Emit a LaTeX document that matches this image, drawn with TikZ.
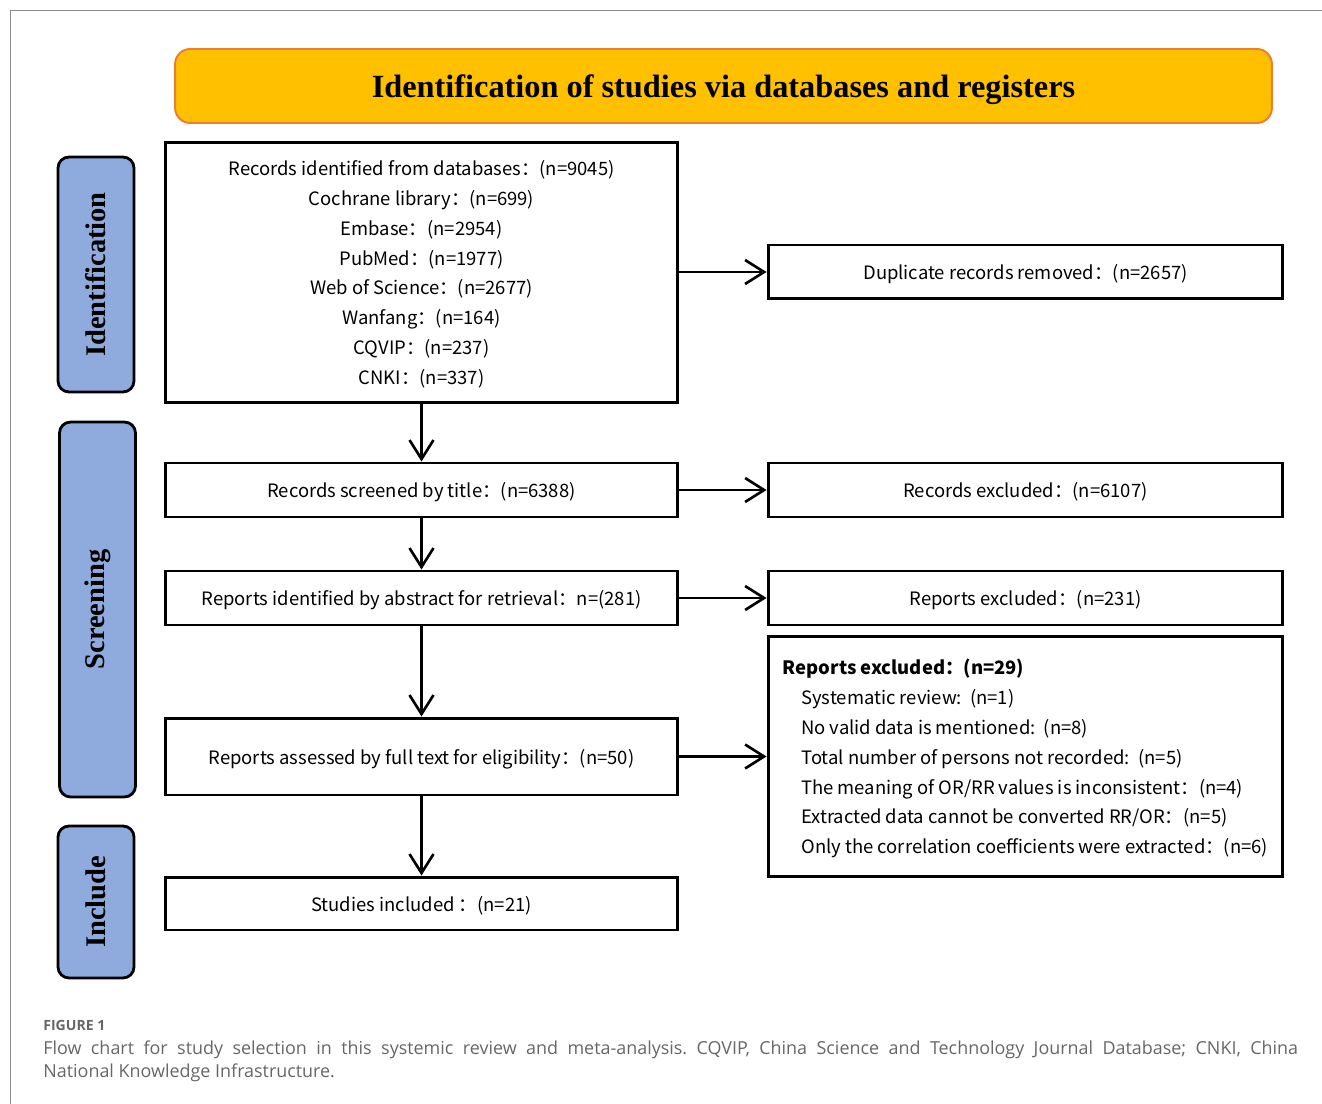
\documentclass[tikz,border=0pt]{standalone}
\usepackage{fontspec}
\setmainfont{Noto Sans CJK SC}
\newfontfamily\headfont{Liberation Serif}
\newfontfamily\capfont{Open Sans}
\usetikzlibrary{arrows.meta}
\definecolor{headfill}{HTML}{FFC000}
\definecolor{headline}{HTML}{ED7D31}
\definecolor{stagefill}{HTML}{8FAADC}
\definecolor{capgray}{HTML}{666666}
\definecolor{framegray}{HTML}{8C8C8C}
\frenchspacing

\begin{document}
\begin{tikzpicture}[x=0.02cm,y=-0.02cm,
	box/.style={draw=black,line width=1.7pt,minimum width=10.26cm,minimum height=1.08cm,inner sep=0pt,align=center,text depth=0pt,font=\fontsize{10.5}{17}\selectfont},
	stage/.style={draw=black,line width=1.6pt,fill=stagefill,rounded corners=0.22cm,rotate=90,minimum height=1.52cm,inner sep=0pt,font=\headfont\fontsize{16.2}{18}\selectfont\bfseries},
	flow/.style={line width=1.5pt,-{Straight Barb[length=0.38cm,width=0.48cm,line width=1.5pt]}}]
	
	\useasboundingbox (0,0) rectangle (1322,1104);
	\draw[framegray,line width=0.5pt] (10,1104) -- (10,10) -- (1322,10);
	
	\node[draw=headline,line width=1.1pt,fill=headfill,rounded corners=0.3cm,minimum width=21.94cm,minimum height=1.48cm,text depth=0pt,font=\headfont\fontsize{18.4}{20}\selectfont\bfseries] (head) at (723.5,86) {Identification of studies via databases and registers};
	
	\node[stage,minimum width=4.7cm] (idlab) at (96,274.5) {Identification};
	\node[stage,minimum width=7.5cm] (scrlab) at (97.5,609.5) {Screening};
	\node[stage,minimum width=3.04cm] (inclab) at (96,902) {Include};
	
	\node[box,minimum height=5.22cm] (rec) at (421.5,272.5) {Records identified from databases：(n=9045)\\Cochrane library：(n=699)\\Embase：(n=2954)\\PubMed：(n=1977)\\Web of Science：(n=2677)\\Wanfang：(n=164)\\CQVIP：(n=237)\\CNKI：(n=337)};
	\node[box,minimum width=10.3cm] (dup) at (1025.5,272) {Duplicate records removed：(n=2657)};
	
	\node[box] (scr) at (421.5,490) {Records screened by title：(n=6388)};
	\node[box,minimum width=10.3cm] (exc1) at (1025.5,490) {Records excluded：(n=6107)};
	
	\node[box] (abs) at (421.5,598) {Reports identified by abstract for retrieval：n=(281)};
	\node[box,minimum width=10.3cm] (exc2) at (1025.5,598) {Reports excluded：(n=231)};
	
	\node[box,minimum height=1.54cm] (full) at (421.5,756.5) {Reports assessed by full text for eligibility：(n=50)};
	\node[box,minimum width=10.3cm,minimum height=4.82cm,align=left] (exc3) at (1025.5,756.5) {\textbf{Reports excluded：(n=29)}\\
		\hspace*{10.5pt}Systematic review:\ \ (n=1)\\
		\hspace*{10.5pt}No valid data is mentioned:\ \ (n=8)\\
		\hspace*{10.5pt}Total number of persons not recorded:\ \ (n=5)\\
		\hspace*{10.5pt}The meaning of OR/RR values is inconsistent：(n=4)\\
		\hspace*{10.5pt}Extracted data cannot be converted RR/OR：(n=5)\\
		\hspace*{10.5pt}Only the correlation coefficients were extracted：(n=6)};
	
	\node[box,minimum height=1.06cm] (inc) at (421.5,903.5) {Studies included ：(n=21)};
	
	\draw[flow] (rec) -- (scr);
	\draw[flow] (scr) -- (abs);
	\draw[flow] (abs) -- (full);
	\draw[flow] (full) -- (inc);
	\draw[flow] (rec.east |- dup) -- (dup);
	\draw[flow] (scr) -- (exc1);
	\draw[flow] (abs) -- (exc2);
	\draw[flow] (full) -- (exc3.west |- full);
	
	\node[anchor=west,inner sep=0pt,text=capgray,font=\capfont\fontsize{8}{10}\selectfont\bfseries] (fig) at (43,1025) {FIGURE 1};
	\node[anchor=north west,inner sep=0pt,text width=25.1cm,align=justify,text=capgray,font=\capfont\fontsize{10.2}{13.6}\selectfont] (cap) at (43,1040) {Flow chart for study selection in this systemic review and meta-analysis. CQVIP, China Science and Technology Journal Database; CNKI, China\linebreak National Knowledge Infrastructure.};
\end{tikzpicture}
\end{document}
